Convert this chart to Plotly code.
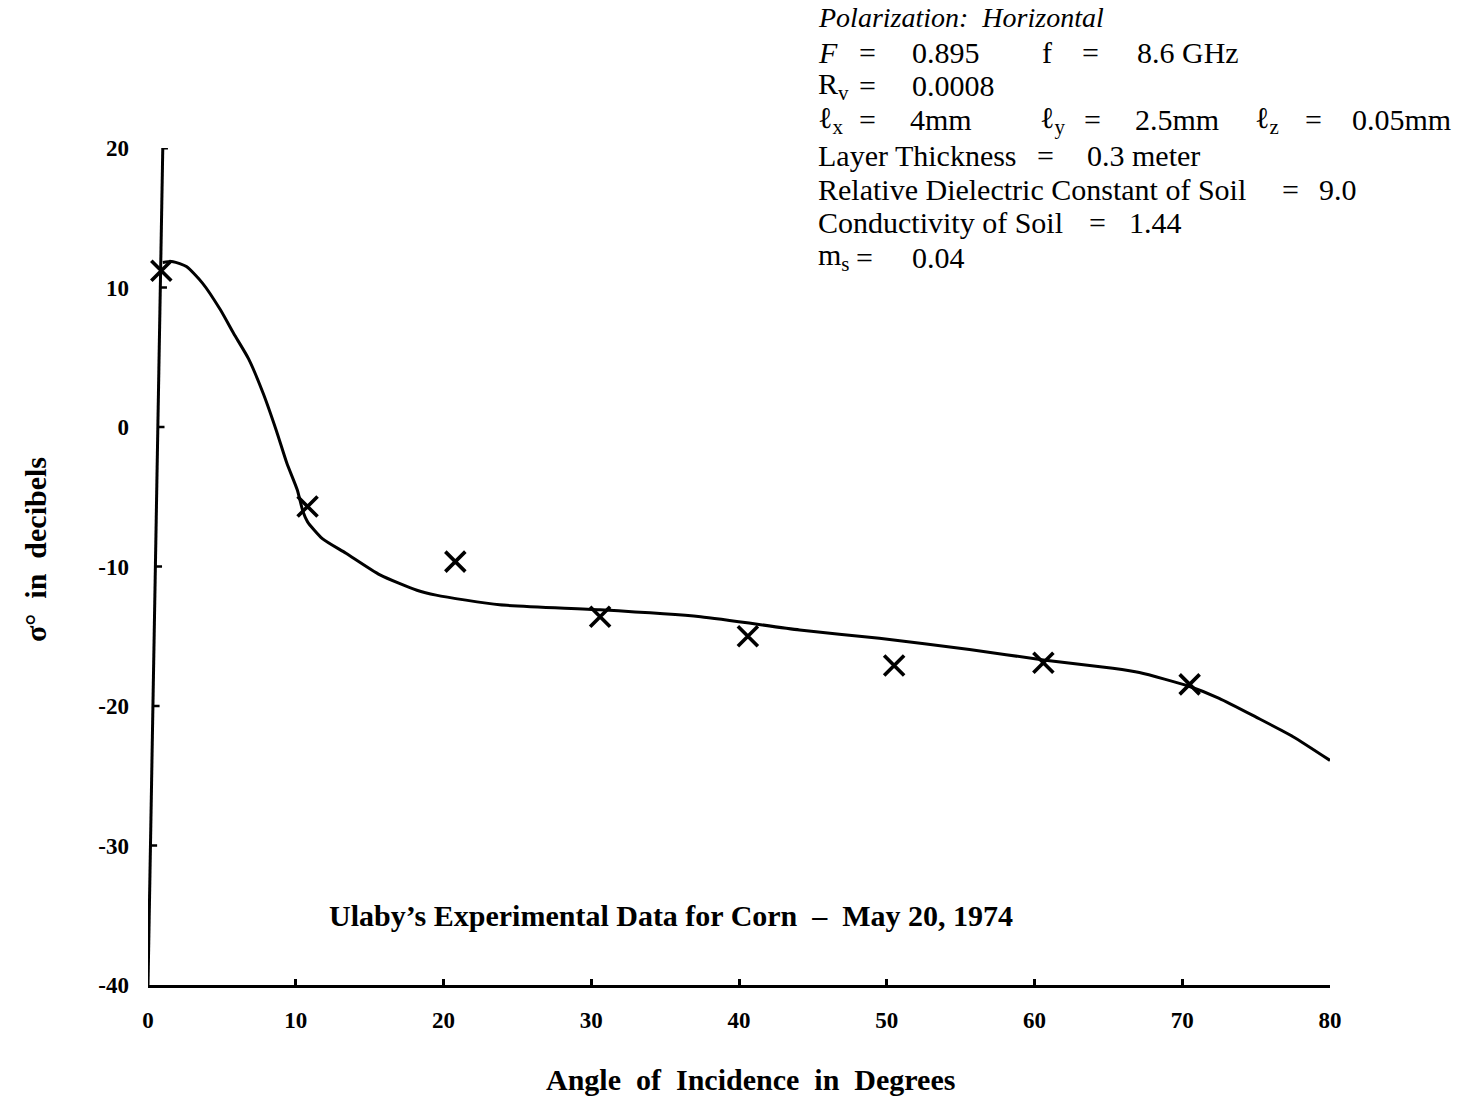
import plotly.graph_objects as go

# ---- data -------------------------------------------------------------
# computed backscatter curve (angle in degrees, sigma0 in dB)
curve_angle = [1.0, 1.7, 2.6, 3.7, 4.9, 5.8, 6.8, 7.8, 8.7, 9.4, 10.1, 10.5,
               10.8, 11.8, 13.4, 15.7, 18.2, 19.5, 23.8, 30.6, 37.4, 44.1,
               49.5, 55.6, 60.6, 65.3, 67.1, 70.5, 72.5, 75.0, 77.5, 80.0]
curve_sigma = [11.8, 11.85, 11.5, 10.3, 8.4, 6.7, 4.9, 2.4, -0.3, -2.6, -4.5,
               -6.1, -6.8, -8.0, -9.05, -10.6, -11.7, -12.05, -12.75, -13.1,
               -13.6, -14.55, -15.15, -15.95, -16.7, -17.3, -17.6, -18.6,
               -19.45, -20.8, -22.2, -23.9]

# Ulaby's measured values for corn, May 20, 1974
meas_angle = [0.9, 10.8, 20.8, 30.6, 40.6, 50.5, 60.6, 70.5]
meas_sigma = [11.2, -5.7, -9.65, -13.6, -15.0, -17.1, -16.9, -18.45]

x_ticks = [0, 10, 20, 30, 40, 50, 60, 70, 80]
x_tick_text = ["0", "10", "20", "30", "40", "50", "60", "70", "80"]
y_ticks = [20, 10, 0, -10, -20, -30, -40]
y_tick_text = ["20", "10", "0", "-10", "-20", "-30", "-40"]

X_RANGE = [0, 80]
Y_RANGE = [-40, 20]

# ---- page geometry ----------------------------------------------------
W, H = 1480, 1096
L, R, T, B = 148, 150, 148, 111
PLOT_W = W - L - R
PLOT_H = H - T - B
SERIF = "Liberation Serif, Times New Roman, serif"


def px_x(x):
    return (x - L) / PLOT_W


def px_y(y):
    return (H - B - y) / PLOT_H


# the hand-drawn ordinate leans slightly to the right toward the top
AX_TOP_X = 1.0


def axis_x_at(v):
    return AX_TOP_X * (v - Y_RANGE[0]) / (Y_RANGE[1] - Y_RANGE[0])


fig = go.Figure()

fig.add_trace(go.Scatter(
    x=curve_angle, y=curve_sigma, mode="lines",
    line=dict(color="black", width=3, shape="spline", smoothing=0.6),
    showlegend=False, hoverinfo="skip",
))
fig.add_trace(go.Scatter(
    x=meas_angle, y=meas_sigma, mode="markers",
    marker=dict(symbol="x-thin", size=20, color="black",
                line=dict(color="black", width=3.6)),
    showlegend=False, cliponaxis=False,
))

# ordinate line, top hook and inward tick marks
shapes = [
    dict(type="line", xref="x", yref="y", x0=0, y0=Y_RANGE[0],
         x1=AX_TOP_X, y1=Y_RANGE[1], line=dict(color="black", width=3)),
    dict(type="line", xref="x", yref="y", x0=AX_TOP_X, y0=Y_RANGE[1],
         x1=AX_TOP_X + 0.35, y1=Y_RANGE[1], line=dict(color="black", width=3)),
]
for v in y_ticks[1:-1]:
    x0 = axis_x_at(v)
    shapes.append(dict(type="line", xref="x", yref="y", x0=x0, y0=v,
                       x1=x0 + 0.45, y1=v,
                       line=dict(color="black", width=2.5)))

# parameter block (text, left/center x px, center y px, anchor)
rows = [18, 52, 86, 120, 155, 189, 223, 257]
params = [
    ("<i>Polarization:  Horizontal</i>", 816, rows[0], "left", 28),
    ("<i>F</i>", 816, rows[1], "left", 30), ("=", 867, rows[1], "center", 30),
    ("0.895", 910, rows[1], "left", 30), ("f", 1040, rows[1], "left", 30),
    ("=", 1090, rows[1], "center", 30), ("8.6 GHz", 1135, rows[1], "left", 30),
    ("R<sub>v</sub>", 816, rows[2], "left", 30),
    ("=", 867, rows[2], "center", 30),
    ("0.0008", 910, rows[2], "left", 30),
    ("ℓ<sub>x</sub>", 816, rows[3], "left", 30),
    ("=", 867, rows[3], "center", 30),
    ("4mm", 908, rows[3], "left", 30),
    ("ℓ<sub>y</sub>", 1038, rows[3], "left", 30),
    ("=", 1092, rows[3], "center", 30), ("2.5mm", 1133, rows[3], "left", 30),
    ("ℓ<sub>z</sub>", 1253, rows[3], "left", 30),
    ("=", 1313, rows[3], "center", 30),
    ("0.05mm", 1350, rows[3], "left", 30),
    ("Layer Thickness", 816, rows[4], "left", 30),
    ("=", 1045, rows[4], "center", 30),
    ("0.3 meter", 1085, rows[4], "left", 30),
    ("Relative Dielectric Constant of Soil", 816, rows[5], "left", 30),
    ("=", 1290, rows[5], "center", 30), ("9.0", 1317, rows[5], "left", 30),
    ("Conductivity of Soil", 816, rows[6], "left", 30),
    ("=", 1097, rows[6], "center", 30), ("1.44", 1127, rows[6], "left", 30),
    ("m<sub>s</sub>", 816, rows[7], "left", 30),
    ("=", 864, rows[7], "center", 30),
    ("0.04", 910, rows[7], "left", 30),
]

annotations = []
for text, x, y, anchor, size in params:
    annotations.append(dict(
        text=text, x=px_x(x), y=px_y(y), xref="paper", yref="paper",
        xanchor=anchor, yanchor="middle", showarrow=False,
        font=dict(family=SERIF, size=size, color="black"),
    ))

annotations += [
    dict(text="<b>Ulaby’s Experimental Data for Corn  –  May 20, 1974</b>",
         x=px_x(327), y=px_y(915), xref="paper", yref="paper",
         xanchor="left", yanchor="middle", showarrow=False,
         font=dict(family=SERIF, size=30, color="black")),
    dict(text="<b>Angle  of  Incidence  in  Degrees</b>",
         x=px_x(750), y=px_y(1079), xref="paper", yref="paper",
         xanchor="center", yanchor="middle", showarrow=False,
         font=dict(family=SERIF, size=30, color="black")),
    dict(text="<b>σ°  in  decibels</b>",
         x=px_x(35), y=px_y(550), xref="paper", yref="paper",
         xanchor="center", yanchor="middle", showarrow=False, textangle=-90,
         font=dict(family=SERIF, size=30, color="black")),
]

fig.update_layout(
    width=W, height=H, autosize=False,
    margin=dict(l=L, r=R, t=T, b=B, pad=0),
    paper_bgcolor="white", plot_bgcolor="white",
    shapes=shapes, annotations=annotations,
    xaxis=dict(
        range=X_RANGE, showgrid=False, zeroline=False,
        showline=True, linecolor="black", linewidth=3,
        ticks="inside", ticklen=6, tickwidth=2.5, tickcolor="black",
        tickvals=x_ticks, ticktext=[f"<b>{t}</b>" for t in x_tick_text],
        tickfont=dict(family=SERIF, size=23, color="black"),
        ticklabelstandoff=12,
    ),
    yaxis=dict(
        range=Y_RANGE, showgrid=False, zeroline=False, showline=False,
        ticks="", tickvals=y_ticks,
        ticktext=[f"<b>{t}</b>" for t in y_tick_text],
        tickfont=dict(family=SERIF, size=23, color="black"),
        ticklabelstandoff=18,
    ),
)

fig.write_html("out.html")
